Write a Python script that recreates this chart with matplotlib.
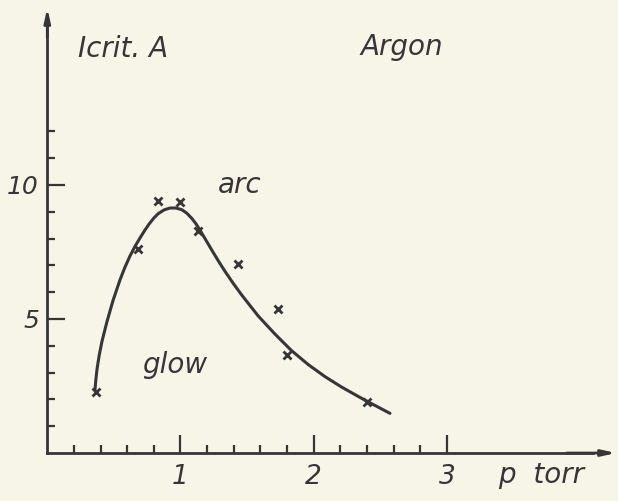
import numpy as np
import matplotlib.pyplot as plt

# measured points (x marks), pressure in torr, critical current in A
pressure = [0.366, 0.683, 0.833, 1.000, 1.128, 1.435, 1.730, 1.800, 2.402]
current = [2.28, 7.60, 9.41, 9.38, 8.28, 7.04, 5.37, 3.66, 1.92]

# hand drawn boundary curve between glow and arc
curve_p = [0.358, 0.364, 0.374, 0.390, 0.410, 0.448, 0.493, 0.546, 0.583,
           0.621, 0.660, 0.696, 0.731, 0.764, 0.799, 0.833, 0.877, 0.921,
           0.965, 1.009, 1.047, 1.084, 1.115, 1.146, 1.190, 1.234, 1.284,
           1.334, 1.396, 1.459, 1.584, 1.709, 1.834, 1.959, 2.085, 2.210,
           2.335, 2.405, 2.573]
curve_i = [2.35, 2.70, 3.15, 3.65, 4.15, 4.90, 5.68, 6.46, 6.93,
           7.35, 7.72, 8.02, 8.30, 8.54, 8.76, 8.93, 9.07, 9.14,
           9.14, 9.08, 8.95, 8.76, 8.56, 8.32, 7.95, 7.58, 7.17,
           6.78, 6.33, 5.90, 5.11, 4.44, 3.82, 3.30, 2.85, 2.46,
           2.11, 1.92, 1.48]

x_major = [1, 2, 3]
x_minor = [0.2, 0.4, 0.6, 0.8, 1.2, 1.4, 1.6, 1.8, 2.2, 2.4, 2.6, 2.8]
y_major = [5, 10]
y_minor = [1, 2, 3, 4, 6, 7, 8, 9, 11, 12]

bg = "#f7f4e8"
ink = "#363636"

fig = plt.figure(figsize=(6.18, 5.01), dpi=100, facecolor=bg)
ax = fig.add_axes([0, 0, 1, 1])
ax.set_facecolor(bg)
ax.set_xlim(-0.355, 4.285)
ax.set_ylim(-1.79, 16.9)

for side in ["top", "right"]:
    ax.spines[side].set_visible(False)
for side in ["left", "bottom"]:
    ax.spines[side].set_position(("data", 0))
    ax.spines[side].set_color(ink)
    ax.spines[side].set_linewidth(2.0)
ax.spines["left"].set_bounds(0, 16.2)
ax.spines["bottom"].set_bounds(0, 4.1)

# arrow heads on the axes
head = "-|>,head_length=0.8,head_width=0.18"
ax.annotate("", xy=(4.27, 0), xytext=(3.9, 0),
            arrowprops=dict(arrowstyle=head, color=ink, lw=2.0,
                            shrinkA=0, shrinkB=0))
ax.annotate("", xy=(0, 16.6), xytext=(0, 15.5),
            arrowprops=dict(arrowstyle=head, color=ink, lw=2.0,
                            shrinkA=0, shrinkB=0))

ax.set_xticks(x_major)
ax.set_xticklabels([str(v) for v in x_major])
ax.set_xticks(x_minor, minor=True)
ax.set_yticks(y_major)
ax.set_yticklabels([str(v) for v in y_major])
ax.set_yticks(y_minor, minor=True)
ax.tick_params(which="major", direction="in", length=13, width=1.6,
               color=ink, labelcolor=ink, labelsize=19, pad=8)
ax.tick_params(axis="y", which="major", labelsize=18, pad=6)
ax.tick_params(which="minor", direction="in", length=6, width=1.6, color=ink)
for lab in ax.get_xticklabels() + ax.get_yticklabels():
    lab.set_fontstyle("italic")

ax.plot(curve_p, curve_i, color=ink, lw=2.2, solid_capstyle="round",
        solid_joinstyle="round")
ax.plot(pressure, current, linestyle="none", marker="x", markersize=5.5,
        mew=2, color=ink)

txt = dict(color=ink, fontsize=20, fontstyle="italic")
ax.text(0.23, 14.78, "Icrit. A", ha="left", va="baseline", **txt)
ax.text(2.35, 14.85, "Argon", ha="left", va="baseline", **txt)
ax.text(1.28, 9.70, "arc", ha="left", va="baseline", **txt)
ax.text(0.71, 2.98, "glow", ha="left", va="baseline", **txt)
ax.text(3.387, -1.12, "p  torr", ha="left", va="baseline", **txt)

fig.savefig("out.png", dpi=100, facecolor=bg)
